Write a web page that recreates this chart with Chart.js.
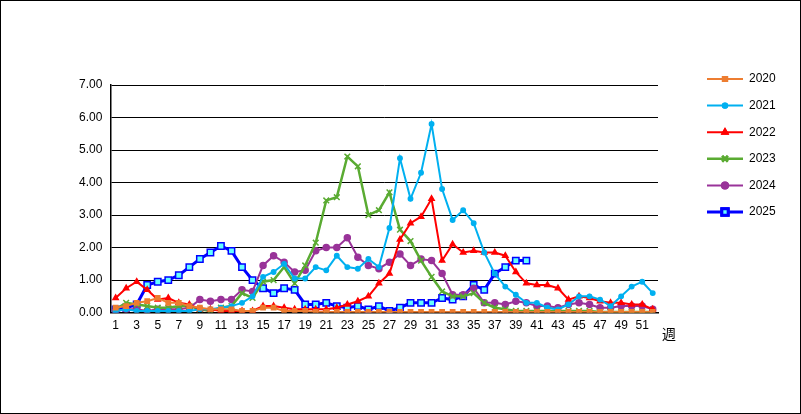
<!DOCTYPE html>
<html><head><meta charset="utf-8">
<script src="https://cdn.jsdelivr.net/npm/chart.js@4"></script>
<style>
html,body{margin:0;padding:0;background:#fff;}
#wrap{position:relative;width:799px;height:412px;border:1px solid #000;}
</style></head>
<body><div id="wrap"><canvas id="c" width="799" height="412"></canvas></div>
<script>
const weeks = Array.from({length: 52}, (_, i) => String(i + 1));
const yTicks = [0, 1, 2, 3, 4, 5, 6, 7];
const s2020 = [0.15,0.2,0.3,0.35,0.45,0.3,0.3,0.2,0.15,0.1,0.1,0.1,0.05,0.05,0.15,0.15,0.05,0.05,0.05,0.02,0.02,0.02,0.02,0.02,0.02,0.02,0.02,0.02,0.02,0.02,0.02,0.02,0.02,0.02,0.02,0.02,0.02,0.02,0.02,0.02,0.02,0.02,0.02,0.02,0.02,0.02,0.02,0.02,0.02,0.02,0.02,0.02];
const s2021 = [0.05,0.1,0.05,0.05,0.05,0.05,0.05,0.05,0.1,0.1,0.15,0.2,0.3,0.5,1.1,1.25,1.5,1.05,1.05,1.4,1.3,1.75,1.4,1.35,1.65,1.4,2.6,4.75,3.5,4.3,5.8,3.8,2.85,3.15,2.75,1.85,1.2,0.8,0.55,0.3,0.3,0.15,0.1,0.25,0.5,0.5,0.4,0.2,0.5,0.8,0.95,0.6];
const s2022 = [0.45,0.75,0.95,0.7,0.4,0.45,0.3,0.25,0.1,0.1,0.05,0.05,0.05,0.05,0.2,0.2,0.15,0.1,0.1,0.1,0.1,0.15,0.25,0.35,0.5,0.9,1.2,2.25,2.75,2.95,3.5,1.6,2.1,1.85,1.9,1.85,1.85,1.75,1.25,0.9,0.85,0.85,0.75,0.4,0.5,0.45,0.35,0.3,0.3,0.25,0.25,0.1];
const s2023 = [0.1,0.3,0.25,0.2,0.15,0.15,0.2,0.2,0.1,0.05,0.15,0.2,0.6,0.45,0.95,1.0,1.4,0.9,1.45,2.15,3.45,3.55,4.8,4.5,3.0,3.15,3.7,2.55,2.2,1.6,1.1,0.65,0.5,0.5,0.6,0.3,0.15,0.1,0.05,0.05,0.05,0.05,0.05,0.05,0.05,0.05,0.02,0.02,0.02,0.02,0.02,0.02];
const s2024 = [0.05,0.1,0.1,0.05,0.1,0.1,0.1,0.15,0.4,0.35,0.4,0.4,0.7,0.65,1.45,1.75,1.55,1.25,1.3,1.9,2.0,2.0,2.3,1.7,1.45,1.35,1.55,1.8,1.45,1.65,1.6,1.2,0.55,0.55,0.75,0.3,0.3,0.25,0.35,0.3,0.2,0.2,0.15,0.25,0.3,0.25,0.15,0.15,0.2,0.2,0.2,0.1];
const s2025 = [0.1,0.15,0.25,0.85,0.95,1.0,1.15,1.4,1.65,1.85,2.05,1.9,1.4,1.0,0.75,0.6,0.75,0.7,0.25,0.25,0.3,0.2,0.15,0.2,0.1,0.2,0.05,0.15,0.3,0.3,0.3,0.45,0.4,0.5,0.85,0.7,1.2,1.4,1.6,1.6];

function ds(label, data, color, style, fill, r, w) {
  return {label, data, borderColor: color, backgroundColor: fill, pointStyle: style,
    pointRadius: r, pointBorderColor: color, pointBorderWidth: 1.5, borderWidth: w, tension: 0};
}
const datasets = [
  ds('2020', s2020, '#ED7D31', 'rect', '#ED7D31', 3, 2),
  ds('2021', s2021, '#00B0F0', 'circle', '#00B0F0', 2.2, 2),
  ds('2022', s2022, '#FF0000', 'triangle', '#FF0000', 3, 2),
  ds('2023', s2023, '#5AAB32', 'crossRot', '#5AAB32', 4, 2.5),
  ds('2024', s2024, '#993399', 'circle', '#993399', 3, 2),
  ds('2025', s2025, '#0000FF', 'rect', '#66FFFF', 4.5, 3)
];

// 右側の凡例と「週」を描く
const extras = {
  id: 'extras',
  afterDraw(chart) {
    const ctx = chart.ctx;
    ctx.save();
    ctx.font = '12px "Liberation Sans", Arial, sans-serif';
    ctx.textBaseline = 'middle';
    chart.data.datasets.forEach((d, i) => {
      const y = 78 + i * 26.6;
      ctx.strokeStyle = d.borderColor; ctx.lineWidth = d.borderWidth;
      ctx.beginPath(); ctx.moveTo(706, y); ctx.lineTo(742, y); ctx.stroke();
      Chart.helpers.drawPoint(ctx, {pointStyle: d.pointStyle, radius: d.pointRadius, borderWidth: 1.5}, 724, y);
      ctx.fillStyle = d.backgroundColor; ctx.strokeStyle = d.borderColor;
      ctx.beginPath();
      Chart.helpers.drawPoint(ctx, {pointStyle: d.pointStyle, radius: d.pointRadius, borderWidth: 1.5}, 724, y);
      ctx.fillStyle = '#000'; ctx.textAlign = 'left';
      ctx.fillText(d.label, 748, y);
    });
    ctx.font = '14px "Noto Sans CJK JP", sans-serif';
    ctx.fillText('週', 661, 333);
    ctx.restore();
  }
};

new Chart(document.getElementById('c'), {
  type: 'line',
  data: {labels: weeks, datasets},
  plugins: [extras],
  options: {
    responsive: false, animation: false,
    layout: {padding: {left: 70, right: 142, top: 84, bottom: 78}},
    plugins: {legend: {display: false}, tooltip: {enabled: false}},
    scales: {
      x: {
        offset: true,
        grid: {display: false, drawTicks: true, tickLength: 4},
        border: {color: '#000', width: 1.5},
        ticks: {color: '#000', autoSkip: false, maxRotation: 0, padding: 2,
          font: {size: 12, family: '"Liberation Sans", Arial, sans-serif'},
          callback: (v, i) => (i % 2 === 0 ? weeks[i] : '')}
      },
      y: {
        min: 0, max: 7,
        afterBuildTicks: ax => { ax.ticks = yTicks.map(v => ({value: v})); },
        grid: {color: '#000', lineWidth: 1, drawTicks: false},
        border: {color: '#000', width: 1.5, dash: []},
        ticks: {color: '#000', padding: 8, font: {size: 12, family: '"Liberation Sans", Arial, sans-serif'},
          callback: v => v.toFixed(2)}
      }
    }
  }
});
Chart.defaults.font.family = '"Liberation Sans", Arial, sans-serif';
</script>
</body></html>
